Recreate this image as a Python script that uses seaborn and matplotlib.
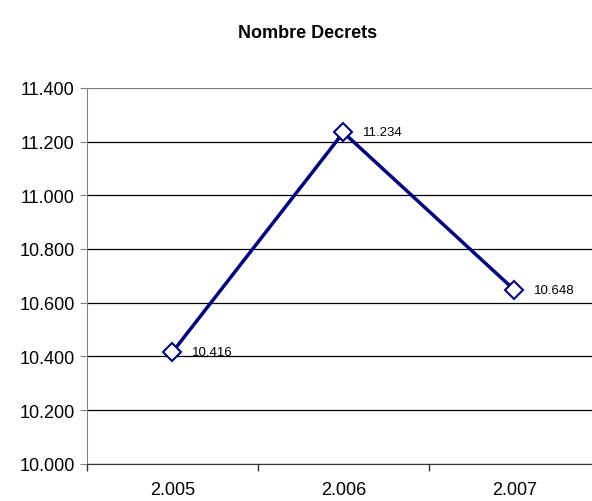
import matplotlib
matplotlib.use("Agg")
import matplotlib.pyplot as plt
import seaborn as sns
import pandas as pd
from matplotlib.ticker import FuncFormatter

years = ["2.005", "2.006", "2.007"]
decrets = [10416, 11234, 10648]
labels = ["10.416", "11.234", "10.648"]

df = pd.DataFrame({"year": years, "decrets": decrets})

sns.set_style("white")
plt.rcParams["font.family"] = ["Liberation Sans", "DejaVu Sans"]
plt.rcParams["text.color"] = "black"
plt.rcParams["xtick.color"] = "black"
plt.rcParams["ytick.color"] = "black"

fig = plt.figure(figsize=(5.92, 5.02), dpi=100)
ax = fig.add_axes([0.147, 0.074, 0.866, 0.749])

sns.lineplot(data=df, x="year", y="decrets", ax=ax, color="#000080", linewidth=2.5,
             marker="D", markersize=9, markerfacecolor="white",
             markeredgecolor="#000080", markeredgewidth=1.5, sort=False)

# data labels to the right of each point
for i, (v, lab) in enumerate(zip(decrets, labels)):
    ax.annotate(lab, (i, v), xytext=(14, 0), textcoords="offset points",
                ha="left", va="center", fontsize=9.5, color="black")

ax.set_xlim(-0.5, 2.5)
ax.set_ylim(10000, 11400)
ax.set_yticks(range(10000, 11401, 200))
ax.yaxis.set_major_formatter(FuncFormatter(lambda v, p: f"{int(v):,}".replace(",", ".")))
ax.set_xticks([0, 1, 2])
ax.set_xticklabels(years)
ax.set_xticks([-0.5, 0.5, 1.5], minor=True)

ax.grid(axis="y", color="black", linewidth=0.9)
ax.get_ygridlines()[-1].set_color("#808080")
ax.set_axisbelow(True)
for s in ["top", "right"]:
    ax.spines[s].set_visible(False)
ax.spines["left"].set_color("#808080")
ax.spines["bottom"].set_color("#333333")
ax.tick_params(axis="y", which="major", left=True, length=5, color="#808080",
               labelcolor="black", labelsize=13, pad=4)
ax.tick_params(axis="x", which="major", bottom=False, length=0, labelcolor="black",
               labelsize=13, pad=12)
ax.tick_params(axis="x", which="minor", bottom=True, length=5, width=1,
               color="#333333", direction="out")
ax.set_xlabel("")
ax.set_ylabel("")

fig.text(0.52, 0.934, "Nombre Decrets", ha="center", va="center",
         fontsize=13, fontweight="bold", color="black")

fig.savefig("out.png", dpi=100)
